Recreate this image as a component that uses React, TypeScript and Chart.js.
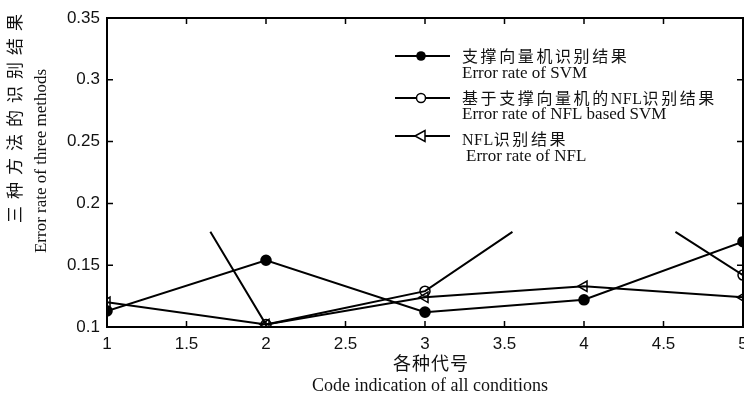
import React, { useEffect, useRef } from "react";
import { Chart, registerables } from "chart.js";

Chart.register(...registerables);

// ---------- data ----------
const codes = [1, 2, 3, 4, 5];
const svmErrors = [0.113, 0.154, 0.112, 0.122, 0.169];
const nflErrors = [0.12, 0.102, 0.124, 0.133, 0.124];
// NFL based SVM: only the visible (unmasked) parts of the curve are shown in the figure
const nflSvmCodes = [1.65, 2, 3, 3.55, 4, 4.575, 5];
const nflSvmErrors: (number | null)[] = [0.177, 0.102, 0.129, 0.177, null, 0.177, 0.142];

const xTickValues = [1, 1.5, 2, 2.5, 3, 3.5, 4, 4.5, 5];
const yTickValues = [0.1, 0.15, 0.2, 0.25, 0.3, 0.35];

const legendCn = ["支撑向量机识别结果", "基于支撑向量机的NFL识别结果", "NFL识别结果"];
const legendEn = ["Error rate of SVM", "Error rate of NFL based SVM", "Error rate of NFL"];
const yTitle = ["三种方法的识别结果", "Error rate of three methods"];
const xTitle = ["各种代号", "Code indication of all conditions"];

const SANS = "'Liberation Sans', Arial, sans-serif";
const SERIF = "'Liberation Serif', 'Times New Roman', serif";
const CJK = "'Noto Sans CJK SC', sans-serif";

function drawMarker(ctx: CanvasRenderingContext2D, kind: string, x: number, y: number) {
  ctx.save();
  ctx.lineWidth = 1.5;
  ctx.strokeStyle = "#000";
  if (kind === "filled") {
    ctx.fillStyle = "#000";
    ctx.beginPath();
    ctx.arc(x, y, 4.8, 0, Math.PI * 2);
    ctx.fill();
  } else if (kind === "open") {
    ctx.fillStyle = "#fff";
    ctx.beginPath();
    ctx.arc(x, y, 4.5, 0, Math.PI * 2);
    ctx.fill();
    ctx.stroke();
  } else {
    ctx.fillStyle = "#fff";
    ctx.beginPath();
    ctx.moveTo(x - 6, y);
    ctx.lineTo(x + 4, y - 5.5);
    ctx.lineTo(x + 4, y + 5.5);
    ctx.closePath();
    ctx.fill();
    ctx.stroke();
  }
  ctx.restore();
}

// draw mixed CJK / Latin text on a shared alphabetic baseline
function drawMixed(ctx: CanvasRenderingContext2D, text: string, x: number, y: number) {
  const runs = text.match(/[A-Za-z0-9 ]+|[^A-Za-z0-9 ]+/g) || [];
  let cx = x;
  ctx.save();
  ctx.textBaseline = "alphabetic";
  runs.forEach((run) => {
    const latin = /^[A-Za-z0-9 ]+$/.test(run);
    ctx.font = latin ? `16px ${SERIF}` : `16px ${CJK}`;
    (ctx as any).letterSpacing = latin ? "0.5px" : "2.6px";
    ctx.fillText(run, cx, y + 6);
    cx += ctx.measureText(run).width;
  });
  ctx.restore();
}

const decorPlugin = {
  id: "matlabDecor",
  afterDraw(chart: any) {
    const ctx: CanvasRenderingContext2D = chart.ctx;
    const { left, right, top, bottom } = chart.chartArea;
    const xs = chart.scales.x;
    const ys = chart.scales.y;
    ctx.save();
    // box
    ctx.strokeStyle = "#000";
    ctx.lineWidth = 2;
    ctx.strokeRect(left, top, right - left, bottom - top);
    // inward ticks
    ctx.lineWidth = 1.5;
    const tl = 6;
    ctx.beginPath();
    xTickValues.forEach((v) => {
      const px = xs.getPixelForValue(v);
      ctx.moveTo(px, bottom);
      ctx.lineTo(px, bottom - tl);
      ctx.moveTo(px, top);
      ctx.lineTo(px, top + tl);
    });
    yTickValues.forEach((v) => {
      const py = ys.getPixelForValue(v);
      ctx.moveTo(left, py);
      ctx.lineTo(left + tl, py);
      ctx.moveTo(right, py);
      ctx.lineTo(right - tl, py);
    });
    ctx.stroke();

    // axis titles
    ctx.fillStyle = "#111";
    ctx.textAlign = "center";
    ctx.textBaseline = "middle";
    ctx.save();
    ctx.translate(15, 118);
    ctx.rotate(-Math.PI / 2);
    ctx.font = `17px ${CJK}`;
    (ctx as any).letterSpacing = "7px";
    ctx.fillText(yTitle[0], 3, 0);
    ctx.restore();
    ctx.save();
    ctx.translate(42, 161);
    ctx.rotate(-Math.PI / 2);
    ctx.font = `17px ${SERIF}`;
    ctx.fillText(yTitle[1], 0, 0);
    ctx.restore();
    ctx.save();
    ctx.font = `18px ${CJK}`;
    (ctx as any).letterSpacing = "1px";
    ctx.fillText(xTitle[0], 431, 363);
    ctx.restore();
    ctx.font = `18px ${SERIF}`;
    ctx.fillText(xTitle[1], 430, 386);

    // legend
    const rows = [
      { kind: "filled", ly: 56, cy: 56, ey: 74, ex: 462 },
      { kind: "open", ly: 98, cy: 98, ey: 115, ex: 462 },
      { kind: "tri", ly: 136, cy: 139, ey: 157, ex: 466 },
    ];
    rows.forEach((r, i) => {
      ctx.strokeStyle = "#000";
      ctx.lineWidth = 2;
      ctx.beginPath();
      ctx.moveTo(395, r.ly);
      ctx.lineTo(450, r.ly);
      ctx.stroke();
      drawMarker(ctx, r.kind, 421, r.ly);
      ctx.fillStyle = "#111";
      ctx.textAlign = "left";
      ctx.textBaseline = "middle";
      drawMixed(ctx, legendCn[i], 462, r.cy);
      ctx.font = `17px ${SERIF}`;
      ctx.fillText(legendEn[i], r.ex, r.ey);
    });
    ctx.restore();
  },
};

export default function App() {
  const canvasRef = useRef<HTMLCanvasElement | null>(null);

  useEffect(() => {
    const canvas = canvasRef.current;
    if (!canvas) return;
    const chart = new Chart(canvas, {
      type: "line",
      data: {
        datasets: [
          {
            label: legendEn[0],
            data: codes.map((c, i) => ({ x: c, y: svmErrors[i] })),
            borderColor: "#000",
            backgroundColor: "#000",
            borderWidth: 2,
            pointStyle: "circle",
            pointRadius: 4.8,
            pointBackgroundColor: "#000",
            pointBorderColor: "#000",
            tension: 0,
          },
          {
            label: legendEn[1],
            data: nflSvmCodes.map((c, i) => ({ x: c, y: nflSvmErrors[i] })),
            borderColor: "#000",
            backgroundColor: "#fff",
            borderWidth: 2,
            pointStyle: "circle",
            pointRadius: (ctx: any) => (ctx.raw && Number.isInteger(ctx.raw.x) ? 5 : 0),
            pointBorderWidth: 1.5,
            pointBackgroundColor: "rgba(255,255,255,0)",
            pointBorderColor: "#000",
            spanGaps: false,
            tension: 0,
          },
          {
            label: legendEn[2],
            data: codes.map((c, i) => ({ x: c, y: nflErrors[i] })),
            borderColor: "#000",
            backgroundColor: "#fff",
            borderWidth: 2,
            pointStyle: "triangle",
            pointRotation: -90,
            pointRadius: 6,
            pointBorderWidth: 1.5,
            pointBackgroundColor: "rgba(255,255,255,0)",
            pointBorderColor: "#000",
            tension: 0,
          },
        ],
      },
      options: {
        responsive: false,
        animation: false,
        devicePixelRatio: 1,
        layout: { padding: { top: 18, right: 17, left: 0, bottom: 0 } },
        plugins: {
          legend: { display: false },
          tooltip: { enabled: false },
          title: { display: false },
        },
        scales: {
          x: {
            type: "linear",
            min: 1,
            max: 5,
            grid: { display: false, drawTicks: false },
            border: { display: false },
            afterBuildTicks: (scale: any) => {
              scale.ticks = xTickValues.map((v) => ({ value: v }));
            },
            afterFit: (scale: any) => {
              scale.height = 67;
            },
            ticks: {
              padding: 7,
              color: "#111",
              font: { family: SANS, size: 17 },
              maxRotation: 0,
              autoSkip: false,
              callback: (v: any) => String(v),
            },
          },
          y: {
            type: "linear",
            min: 0.1,
            max: 0.35,
            grid: { display: false, drawTicks: false },
            border: { display: false },
            afterBuildTicks: (scale: any) => {
              scale.ticks = yTickValues.map((v) => ({ value: v }));
            },
            afterFit: (scale: any) => {
              scale.width = 107;
            },
            ticks: {
              padding: 7,
              color: "#111",
              font: { family: SANS, size: 17 },
              autoSkip: false,
              callback: (v: any) => String(v),
            },
          },
        },
      },
      plugins: [decorPlugin],
    } as any);
    return () => chart.destroy();
  }, []);

  return (
    <div
      style={{
        position: "fixed",
        left: 0,
        top: 0,
        width: 744,
        height: 394,
        overflow: "hidden",
        background: "#fff",
      }}
    >
      <canvas ref={canvasRef} width={760} height={394} style={{ width: 760, height: 394, display: "block" }} />
    </div>
  );
}
